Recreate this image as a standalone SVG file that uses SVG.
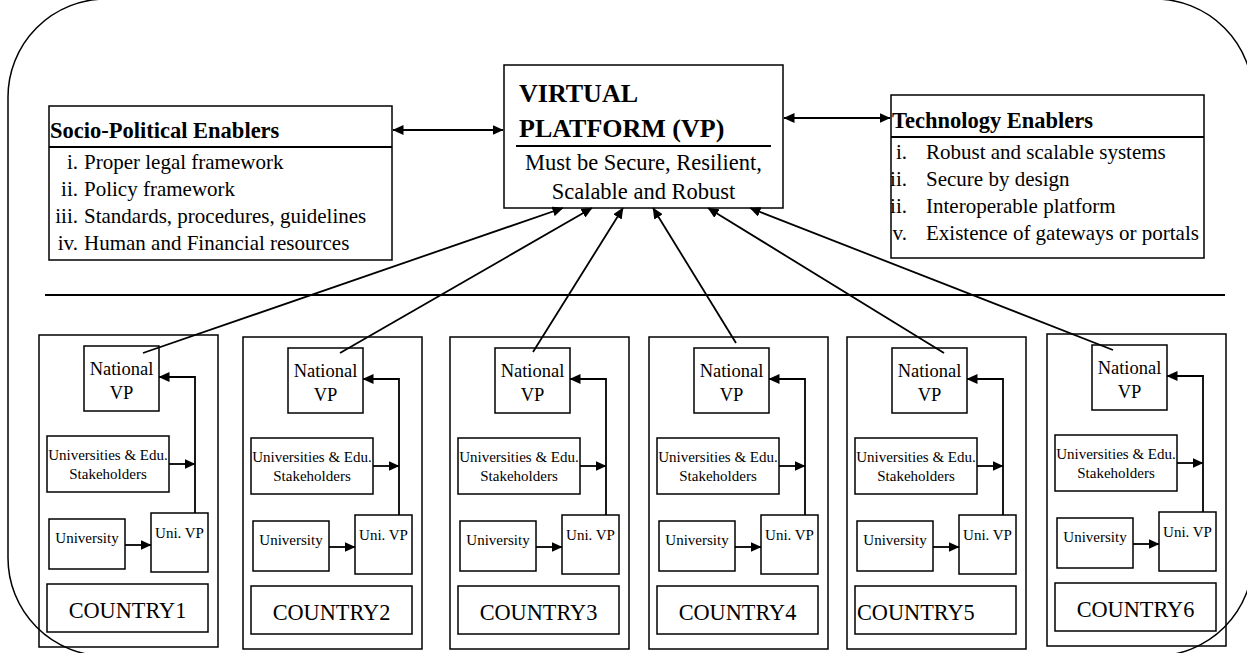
<svg xmlns="http://www.w3.org/2000/svg" width="1247" height="653" viewBox="0 0 1247 653">
<style>
.box{fill:none;stroke:#000;stroke-width:1.5}
.div{stroke:#000;stroke-width:2.2}
.conn{stroke:#000;stroke-width:1.8;fill:none}
.arr{marker-end:url(#ah)}
.dbl{marker-end:url(#ah);marker-start:url(#ahs)}
.t{font-family:"Liberation Serif",serif;font-size:22.5px;font-weight:bold}
.vt{font-family:"Liberation Serif",serif;font-size:26px;font-weight:bold}
.sub{font-family:"Liberation Serif",serif;font-size:22.5px;text-anchor:middle}
.li{font-family:"Liberation Serif",serif;font-size:21px}
.num{font-family:"Liberation Serif",serif;font-size:21px;text-anchor:end}
.nat{font-family:"Liberation Serif",serif;font-size:18.5px;text-anchor:middle}
.sm{font-family:"Liberation Serif",serif;font-size:15px;text-anchor:middle}
.cty{font-family:"Liberation Serif",serif;font-size:22.3px;text-anchor:middle}
.cl{font-family:"Liberation Serif",serif;font-size:22.3px;text-anchor:start}
</style>
<defs>
<marker id="ah" markerUnits="userSpaceOnUse" markerWidth="11" markerHeight="10" refX="10.5" refY="5" orient="auto"><path d="M0,0 L11,5 L0,10 z" fill="#000"/></marker>
<marker id="ahs" markerUnits="userSpaceOnUse" markerWidth="11" markerHeight="10" refX="10.5" refY="5" orient="auto-start-reverse"><path d="M0,0 L11,5 L0,10 z" fill="#000"/></marker>
</defs>
<rect x="0" y="0" width="1247" height="653" fill="#fff"/>
<rect id="frame" x="8" y="-1" width="1245" height="657" rx="98" ry="98" class="box"/>
<line x1="45" y1="295" x2="1225" y2="295" class="conn" stroke-width="1.6"/>

<g id="socio">
<rect x="49" y="106" width="343" height="154" class="box"/>
<line x1="49" y1="147" x2="392" y2="147" class="div"/>
<text x="50" y="138" class="t">Socio-Political Enablers</text>
<text x="78" y="169" class="num">i.</text><text x="84" y="169" class="li">Proper legal framework</text>
<text x="78" y="196" class="num">ii.</text><text x="84" y="196" class="li">Policy framework</text>
<text x="78" y="223" class="num">iii.</text><text x="84" y="223" class="li">Standards, procedures, guidelines</text>
<text x="78" y="250" class="num">iv.</text><text x="84" y="250" class="li">Human and Financial resources</text>
</g>

<g id="vp">
<rect x="504" y="65" width="279" height="143" class="box" stroke-width="1.8"/>
<text x="519" y="102" class="vt">VIRTUAL</text>
<text x="519" y="137" class="vt">PLATFORM (VP)</text>
<line x1="516" y1="146" x2="771" y2="146" class="div"/>
<text x="643.5" y="170" class="sub">Must be Secure, Resilient,</text>
<text x="643.5" y="199" class="sub">Scalable and Robust</text>
</g>

<g id="tech">
<rect x="891" y="95" width="313" height="163" class="box"/>
<line x1="891" y1="137" x2="1204" y2="137" class="div"/>
<text x="892" y="128" class="t">Technology Enablers</text>
<text x="907" y="159" class="num">i.</text><text x="926" y="159" class="li">Robust and scalable systems</text>
<text x="907" y="186" class="num">ii.</text><text x="926" y="186" class="li">Secure by design</text>
<text x="907" y="213" class="num">ii.</text><text x="926" y="213" class="li">Interoperable platform</text>
<text x="907" y="240" class="num">v.</text><text x="926" y="240" class="li">Existence of gateways or portals</text>
</g>

<g id="country1" transform="translate(39,335)">
<rect x="0" y="0" width="179" height="312" class="box"/>
<rect x="45" y="11" width="75" height="65" class="box"/><text x="82.5" y="40" class="nat">National</text><text x="82.5" y="64" class="nat">VP</text>
<rect x="8" y="101" width="122" height="56" class="box"/><text x="69" y="125" class="sm">Universities &amp; Edu.</text><text x="69" y="144" class="sm">Stakeholders</text>
<rect x="10" y="184" width="76" height="50" class="box"/><text x="48" y="208" class="sm">University</text>
<rect x="112" y="178" width="57" height="59" class="box"/><text x="140.5" y="203" class="sm">Uni. VP</text>
<rect x="8" y="249" width="161" height="48" class="box"/><text x="88.5" y="283" class="cty">COUNTRY1</text>
</g>
<g id="country2" transform="translate(243,337)">
<rect x="0" y="0" width="179" height="312" class="box"/>
<rect x="45" y="11" width="75" height="65" class="box"/><text x="82.5" y="40" class="nat">National</text><text x="82.5" y="64" class="nat">VP</text>
<rect x="8" y="101" width="122" height="56" class="box"/><text x="69" y="125" class="sm">Universities &amp; Edu.</text><text x="69" y="144" class="sm">Stakeholders</text>
<rect x="10" y="184" width="76" height="50" class="box"/><text x="48" y="208" class="sm">University</text>
<rect x="112" y="178" width="57" height="59" class="box"/><text x="140.5" y="203" class="sm">Uni. VP</text>
<rect x="8" y="249" width="161" height="48" class="box"/><text x="88.5" y="283" class="cty">COUNTRY2</text>
</g>
<g id="country3" transform="translate(450,337)">
<rect x="0" y="0" width="179" height="312" class="box"/>
<rect x="45" y="11" width="75" height="65" class="box"/><text x="82.5" y="40" class="nat">National</text><text x="82.5" y="64" class="nat">VP</text>
<rect x="8" y="101" width="122" height="56" class="box"/><text x="69" y="125" class="sm">Universities &amp; Edu.</text><text x="69" y="144" class="sm">Stakeholders</text>
<rect x="10" y="184" width="76" height="50" class="box"/><text x="48" y="208" class="sm">University</text>
<rect x="112" y="178" width="57" height="59" class="box"/><text x="140.5" y="203" class="sm">Uni. VP</text>
<rect x="8" y="249" width="161" height="48" class="box"/><text x="88.5" y="283" class="cty">COUNTRY3</text>
</g>
<g id="country4" transform="translate(649,337)">
<rect x="0" y="0" width="179" height="312" class="box"/>
<rect x="45" y="11" width="75" height="65" class="box"/><text x="82.5" y="40" class="nat">National</text><text x="82.5" y="64" class="nat">VP</text>
<rect x="8" y="101" width="122" height="56" class="box"/><text x="69" y="125" class="sm">Universities &amp; Edu.</text><text x="69" y="144" class="sm">Stakeholders</text>
<rect x="10" y="184" width="76" height="50" class="box"/><text x="48" y="208" class="sm">University</text>
<rect x="112" y="178" width="57" height="59" class="box"/><text x="140.5" y="203" class="sm">Uni. VP</text>
<rect x="8" y="249" width="161" height="48" class="box"/><text x="88.5" y="283" class="cty">COUNTRY4</text>
</g>
<g id="country5" transform="translate(847,337)">
<rect x="0" y="0" width="179" height="312" class="box"/>
<rect x="45" y="11" width="75" height="65" class="box"/><text x="82.5" y="40" class="nat">National</text><text x="82.5" y="64" class="nat">VP</text>
<rect x="8" y="101" width="122" height="56" class="box"/><text x="69" y="125" class="sm">Universities &amp; Edu.</text><text x="69" y="144" class="sm">Stakeholders</text>
<rect x="10" y="184" width="76" height="50" class="box"/><text x="48" y="208" class="sm">University</text>
<rect x="112" y="178" width="57" height="59" class="box"/><text x="140.5" y="203" class="sm">Uni. VP</text>
<rect x="8" y="249" width="161" height="48" class="box"/><text x="10" y="283" class="cl">COUNTRY5</text>
</g>
<g id="country6" transform="translate(1047,334)">
<rect x="0" y="0" width="179" height="312" class="box"/>
<rect x="45" y="11" width="75" height="65" class="box"/><text x="82.5" y="40" class="nat">National</text><text x="82.5" y="64" class="nat">VP</text>
<rect x="8" y="101" width="122" height="56" class="box"/><text x="69" y="125" class="sm">Universities &amp; Edu.</text><text x="69" y="144" class="sm">Stakeholders</text>
<rect x="10" y="184" width="76" height="50" class="box"/><text x="48" y="208" class="sm">University</text>
<rect x="112" y="178" width="57" height="59" class="box"/><text x="140.5" y="203" class="sm">Uni. VP</text>
<rect x="8" y="249" width="161" height="48" class="box"/><text x="88.5" y="283" class="cty">COUNTRY6</text>
</g>

<g id="connectors">
<line x1="393" y1="130" x2="503" y2="130" class="conn dbl"/>
<line x1="784" y1="118" x2="890" y2="118" class="conn dbl"/>
<line x1="143" y1="353" x2="563" y2="208" class="conn arr"/>
<line x1="340" y1="353" x2="592" y2="208" class="conn arr"/>
<line x1="533" y1="352" x2="623" y2="208" class="conn arr"/>
<line x1="736" y1="343" x2="653" y2="208" class="conn arr"/>
<line x1="944" y1="353" x2="708" y2="208" class="conn arr"/>
<line x1="1113" y1="350" x2="750" y2="208" class="conn arr"/>
<g transform="translate(39,335)"><line x1="86" y1="210" x2="112" y2="210" class="conn arr"/><line x1="130" y1="129" x2="156" y2="129" class="conn arr"/><polyline points="156,178 156,42 120,42" class="conn arr"/></g>
<g transform="translate(243,337)"><line x1="86" y1="210" x2="112" y2="210" class="conn arr"/><line x1="130" y1="129" x2="156" y2="129" class="conn arr"/><polyline points="156,178 156,42 120,42" class="conn arr"/></g>
<g transform="translate(450,337)"><line x1="86" y1="210" x2="112" y2="210" class="conn arr"/><line x1="130" y1="129" x2="156" y2="129" class="conn arr"/><polyline points="156,178 156,42 120,42" class="conn arr"/></g>
<g transform="translate(649,337)"><line x1="86" y1="210" x2="112" y2="210" class="conn arr"/><line x1="130" y1="129" x2="156" y2="129" class="conn arr"/><polyline points="156,178 156,42 120,42" class="conn arr"/></g>
<g transform="translate(847,337)"><line x1="86" y1="210" x2="112" y2="210" class="conn arr"/><line x1="130" y1="129" x2="156" y2="129" class="conn arr"/><polyline points="156,178 156,42 120,42" class="conn arr"/></g>
<g transform="translate(1047,334)"><line x1="86" y1="210" x2="112" y2="210" class="conn arr"/><line x1="130" y1="129" x2="156" y2="129" class="conn arr"/><polyline points="156,178 156,42 120,42" class="conn arr"/></g>
</g>
</svg>
